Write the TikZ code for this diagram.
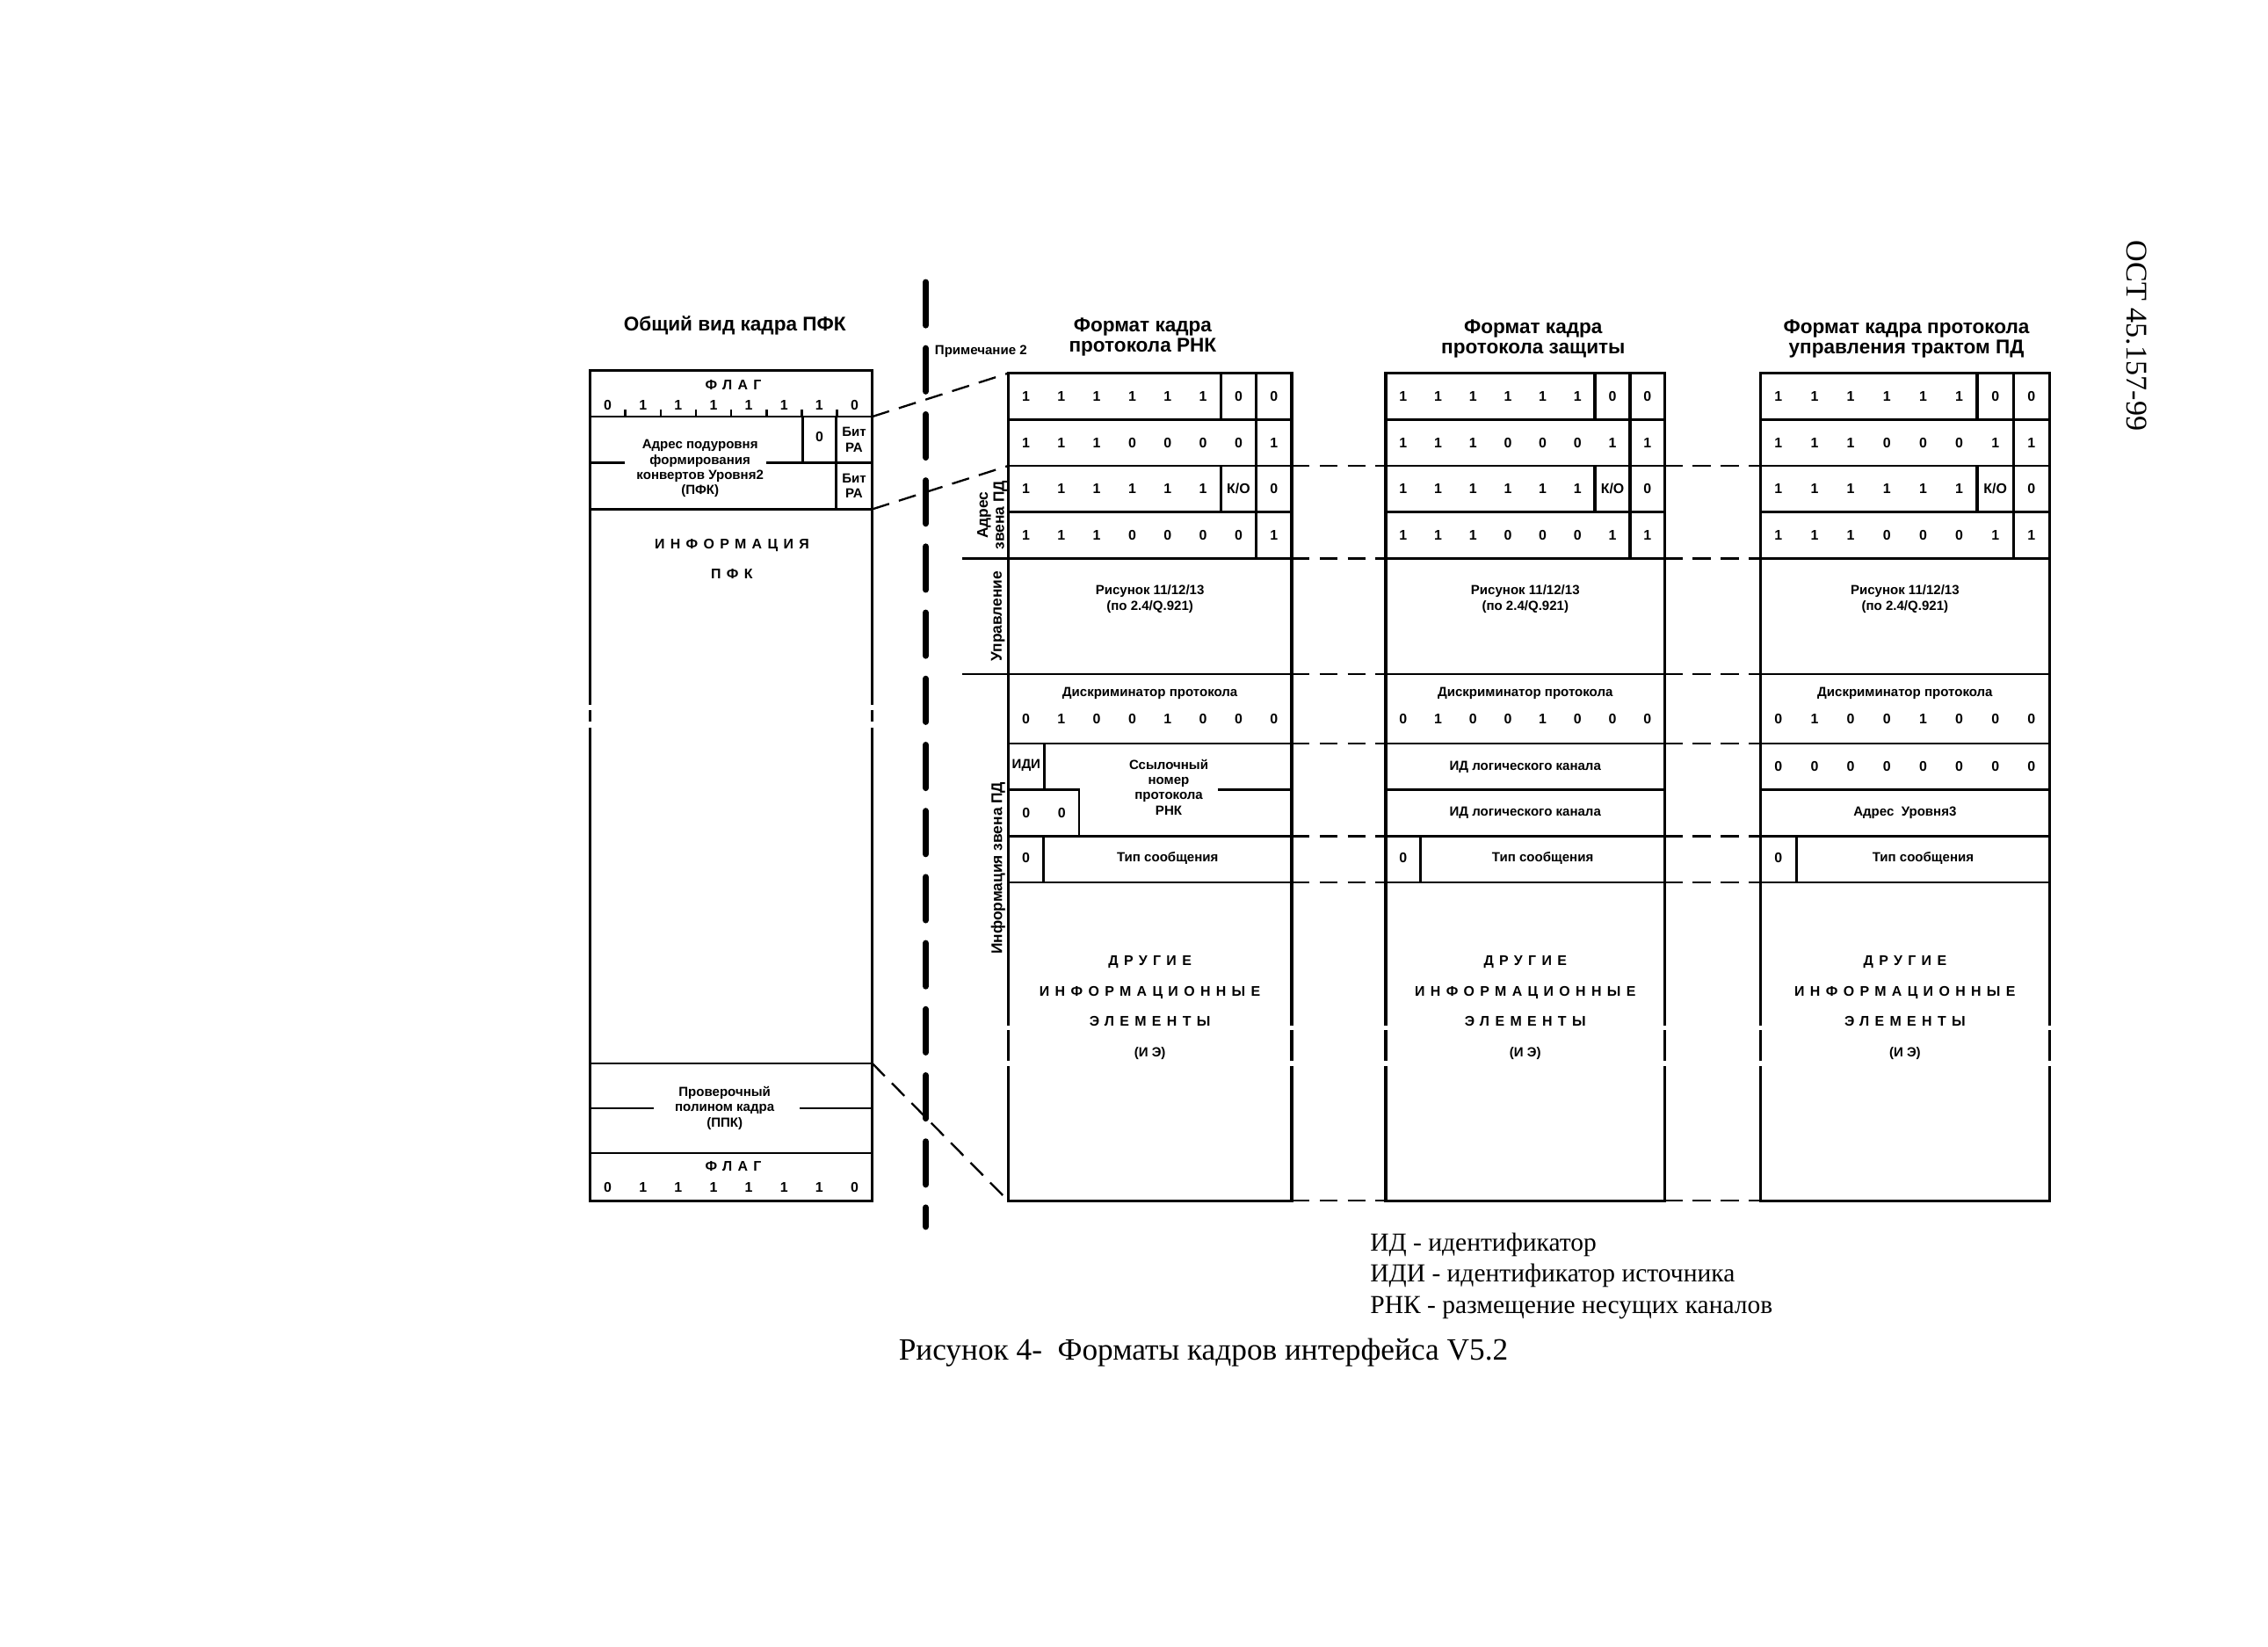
\documentclass[tikz,border=0pt]{standalone}
\usepackage{fontspec}
\setmainfont{Liberation Serif}
\setsansfont{Liberation Sans}

\tikzset{
  fr/.style={line width=1.2pt},
  ln/.style={line width=0.9pt},
  divline/.style={line width=2.4pt,dash pattern=on 17pt off 9pt,line cap=round},
  lk/.style={line width=0.8pt,dash pattern=on 7pt off 4pt},
  ttl/.style={font=\sffamily\bfseries\fontsize{7.8}{8}\selectfont,align=center,inner sep=0pt},
  bt/.style={font=\sffamily\bfseries\fontsize{5.5}{6}\selectfont,inner sep=0pt},
  tx/.style={font=\sffamily\bfseries\fontsize{5.2}{6}\selectfont,align=center,inner sep=0pt},
  rt/.style={tx,font=\sffamily\bfseries\fontsize{6}{6.4}\selectfont,rotate=90},
  spc/.style={font={\sffamily\bfseries\fontsize{5.5}{6}\selectfont\addfontfeature{LetterSpace=40}},inner sep=0pt},
  leg/.style={font=\fontsize{10.2}{12.2}\selectfont,align=left,inner sep=0pt},
}

\begin{document}
\begin{tikzpicture}[x=0.2mm,y=-0.2mm]
  \fill[white] (0,0) rectangle (1568,1138);
  \useasboundingbox (0,0) rectangle (1568,1138);

  % general view of the frame
  \node[ttl] (t0) at (508,225) {Общий вид кадра ПФК};
  \draw[fr] (408,487) -- (408,256) -- (603,256) -- (603,487);
  \draw[fr] (408,491) -- (408,499) (603,491) -- (603,499);
  \draw[fr] (408,503) -- (408,830) -- (603,830) -- (603,503);
  \foreach \y in {288,352,735,797}
    \draw[ln] (408,\y) -- (603,\y);
  \foreach \k in {1,...,7}
    \draw[ln] ({408+\k*24.375},288) -- ++(0,-5);
  \node[spc] (f1) at (507,266) {ФЛАГ};
  \foreach \bv [count=\k] in {0,1,1,1,1,1,1,0}
    \node[bt] (f1-\k) at ({408+(\k-0.5)*24.375},280) {\bv};
  \draw[ln] (555,288) -- (555,320);
  \draw[ln] (578,288) -- (578,352);
  \draw[ln] (578,320) -- (603,320);
  \draw[ln] (408,320) -- (432,320) (530,320) -- (578,320);
  \node[bt] (adr0) at (566.5,302) {0};
  \node[tx] (ra1) at (590.5,304) {Бит\\РА};
  \node[tx] (ra2) at (590.5,336) {Бит\\РА};
  \node[tx] (adr) at (484,324) {Адрес подуровня\\формирования\\конвертов Уровня2\\(ПФК)};
  \node[spc] (inf) at (506,377) {ИНФОРМАЦИЯ};
  \node[spc] (inf2) at (506,397) {ПФК};
  \draw[ln] (408,766) -- (452,766) (553,766) -- (603,766);
  \node[tx] (ppk) at (501,766) {Проверочный\\полином кадра\\(ППК)};
  \node[spc] (f2) at (507,806) {ФЛАГ};
  \foreach \bv [count=\k] in {0,1,1,1,1,1,1,0}
    \node[bt] (f2-\k) at ({408+(\k-0.5)*24.375},821) {\bv};

  % separator
  \draw[divline] (640,195) -- (640,848);
  \node[tx,anchor=west] (note) at (646,243) {Примечание 2};

  % titles of the three formats
  \node[ttl] (t1) at (790,233) {Формат кадра\\протокола РНК};
  \node[ttl] (t2) at (1060,234) {Формат кадра\\протокола защиты};
  \node[ttl] (t3) at (1318,234) {Формат кадра протокола\\управления трактом ПД};

  % common part of the frames
  \foreach \fx/\fw/\fn/\rb in {697/196/r/0,958/193/z/1,1217/200/u/1}{
    \pgfmathsetmacro\bw{\fw/8}
    \pgfmathsetmacro\fe{\fx+\fw}
    \pgfmathsetmacro\fc{\fx+\fw/2}
    \draw[fr] (\fx,709) -- (\fx,258) -- (\fe,258) -- (\fe,709);
    \draw[fr] (\fx,712) -- (\fx,733) (\fe,712) -- (\fe,733);
    \draw[fr] (\fx,737) -- (\fx,830) -- (\fe,830) -- (\fe,737);
    \foreach \y in {290,322,354,386,466,514,578,610}
      \draw[ln] (\fx,\y) -- (\fe,\y);
    \draw[fr] ({\fx+7*\bw},258) -- ({\fx+7*\bw},386);
    \draw[fr] ({\fx+6*\bw},258) -- ({\fx+6*\bw},290) ({\fx+6*\bw},322) -- ({\fx+6*\bw},354);
    \foreach \bv [count=\k] in {1,1,1,1,1,1,0,0}
      \node[bt] (\fn-a\k) at ({\fx+(\k-0.5)*\bw},274) {\bv};
    \foreach \bv [count=\k] in {1,1,1,0,0,0,\rb,1}
      \node[bt] (\fn-b\k) at ({\fx+(\k-0.5)*\bw},306) {\bv};
    \foreach \bv [count=\k] in {1,1,1,1,1,1,К/О,0}
      \node[bt] (\fn-c\k) at ({\fx+(\k-0.5)*\bw},338) {\bv};
    \foreach \bv [count=\k] in {1,1,1,0,0,0,\rb,1}
      \node[bt] (\fn-d\k) at ({\fx+(\k-0.5)*\bw},370) {\bv};
    \node[tx] (\fn-upr) at (\fc,414) {Рисунок 11/12/13\\(по 2.4/Q.921)};
    \node[tx] (\fn-dp) at (\fc,479) {Дискриминатор протокола};
    \foreach \bv [count=\k] in {0,1,0,0,1,0,0,0}
      \node[bt] (\fn-e\k) at ({\fx+(\k-0.5)*\bw},497) {\bv};
    \draw[ln] ({\fx+\bw},578) -- ({\fx+\bw},610);
    \node[bt] (\fn-t0) at ({\fx+0.5*\bw},593) {0};
    \node[tx] (\fn-tip) at ({\fc+0.5*\bw},593) {Тип сообщения};
    \node[spc] (\fn-ie1) at (\fc,665) {ДРУГИЕ};
    \node[spc] (\fn-ie2) at (\fc,686) {ИНФОРМАЦИОННЫЕ};
    \node[spc] (\fn-ie3) at (\fc,706) {ЭЛЕМЕНТЫ};
    \node[tx] (\fn-ie4) at (\fc,728) {(И Э)};
  }

  % RNK frame
  \draw[ln] (722,514) -- (722,546);
  \draw[ln] (697,546) -- (746,546) -- (746,578) (842,546) -- (893,546);
  \node[tx] (r-idi) at (709.5,529) {ИДИ};
  \node[bt] (r-n1) at (709.5,562) {0};
  \node[bt] (r-n2) at (734,562) {0};
  \node[tx] (r-ssn) at (808,544) {Ссылочный\\номер\\протокола\\РНК};
  \node[rt] (r-adr) at (686,356) {Адрес\\звена ПД};
  \node[rt] (r-upr) at (690,426) {Управление};
  \node[rt] (r-inf) at (690,600) {Информация звена ПД};
  \draw[ln] (665,386) -- (697,386) (665,466) -- (697,466);

  % protection frame
  \draw[ln] (958,546) -- (1151,546);
  \node[tx] (z-id1) at (1054.5,530) {ИД логического канала};
  \node[tx] (z-id2) at (1054.5,562) {ИД логического канала};

  % path control frame
  \draw[ln] (1217,546) -- (1417,546);
  \foreach \k in {1,...,8}
    \node[bt] (u-n\k) at ({1217+(\k-0.5)*25},530) {0};
  \node[tx] (u-adr) at (1317,562) {Адрес\ \ Уровня3};

  % links between frames
  \foreach \y in {322,386,466,514,578,610,830}
    \draw[lk] (893,\y) -- (958,\y) (1151,\y) -- (1217,\y);
  \coordinate (p1) at (603,288);
  \coordinate (p2) at (603,352);
  \coordinate (p3) at (603,735);
  \coordinate (q1) at (697,258);
  \coordinate (q2) at (697,322);
  \coordinate (q3) at (697,830);
  \draw[lk] (p1) -- (q1);
  \draw[lk] (p2) -- (q2);
  \draw[lk] (p3) -- (q3);

  % legend and caption
  \node[leg,anchor=north west] (leg) at (947,852)
    {ИД - идентификатор\\ИДИ - идентификатор источника\\РНК - размещение несущих каналов};
  \node[font=\fontsize{12.2}{14}\selectfont,anchor=west,inner sep=0pt] (capt) at (621,935)
    {Рисунок 4-\ \ Форматы кадров интерфейса V5.2};
  \node[font=\fontsize{11.8}{12}\selectfont,rotate=-90,inner sep=0pt] (ost) at (1477,232) {ОСТ 45.157-99};
\end{tikzpicture}
\end{document}
